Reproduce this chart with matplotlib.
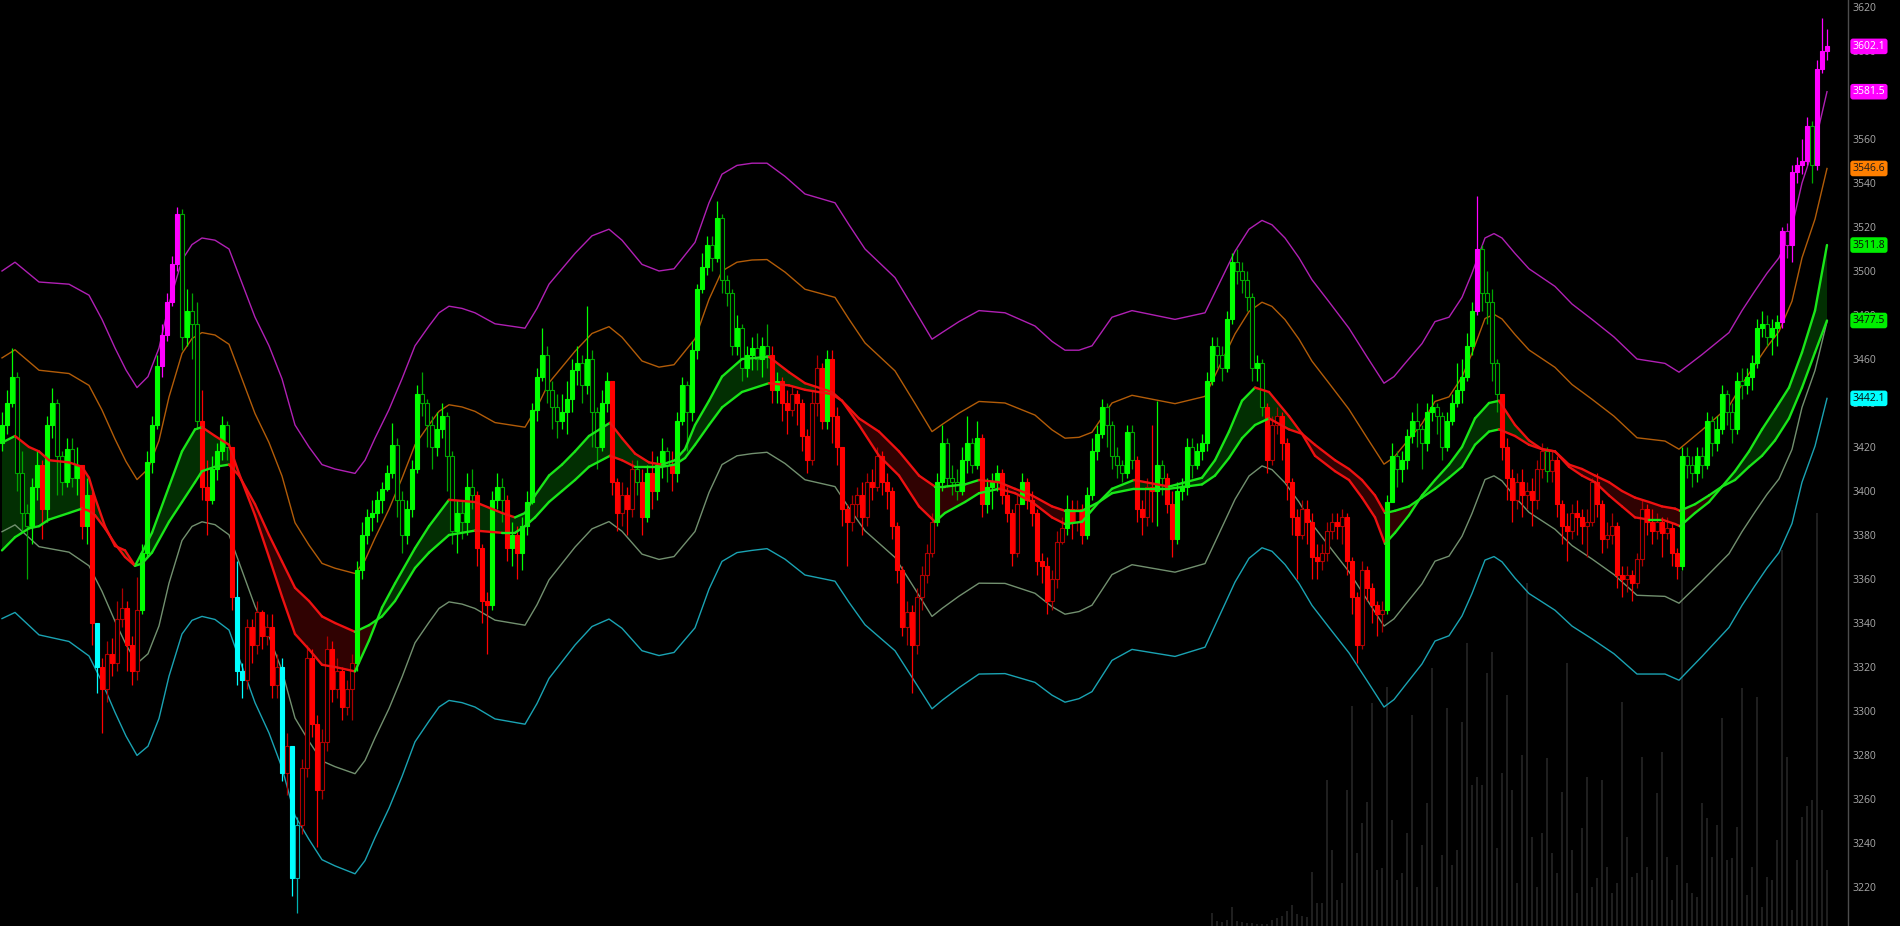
#!/usr/bin/python3

import numpy as np
import matplotlib
matplotlib.use('Agg')
from matplotlib import pyplot as plt
from matplotlib import transforms as mtransforms
from matplotlib.collections import LineCollection

# ---------------------------------------------------------------------------
# Candles (one per bar); open of bar i = close of bar i-1
first_open = 3422
closes = [
    3430, 3440, 3452, 3408, 3390, 3384, 3402, 3412, 3392, 3430,
    3440, 3416, 3404, 3419, 3406, 3412, 3384, 3398, 3340, 3320,
    3310, 3326, 3322, 3342, 3347, 3330, 3318, 3346, 3372, 3413,
    3430, 3457, 3471, 3486, 3503, 3526, 3470, 3482, 3476, 3432,
    3402, 3396, 3410, 3418, 3430, 3420, 3352, 3318, 3314, 3338,
    3330, 3345, 3334, 3338, 3312, 3320, 3272, 3284, 3224, 3248,
    3274, 3324, 3294, 3264, 3286, 3328, 3310, 3318, 3302, 3310,
    3322, 3364, 3380, 3388, 3390, 3396, 3401, 3408, 3421, 3396,
    3380, 3392, 3410, 3444, 3440, 3430, 3420, 3428, 3434, 3416,
    3382, 3390, 3386, 3402, 3398, 3374, 3350, 3348, 3396, 3402,
    3396, 3374, 3380, 3372, 3384, 3395, 3437, 3452, 3462, 3446,
    3438, 3432, 3436, 3442, 3455, 3458, 3448, 3460, 3436, 3420,
    3440, 3450, 3404, 3390, 3398, 3392, 3410, 3404, 3388, 3408,
    3400, 3412, 3418, 3412, 3408, 3432, 3448, 3436, 3464, 3492,
    3502, 3512, 3506, 3524, 3496, 3490, 3466, 3474, 3456, 3462,
    3465, 3460, 3466, 3462, 3446, 3450, 3440, 3437, 3444, 3440,
    3425, 3414, 3440, 3456, 3432, 3460, 3434, 3420, 3392, 3386,
    3394, 3398, 3388, 3404, 3402, 3416, 3404, 3400, 3384, 3364,
    3338, 3345, 3330, 3352, 3362, 3372, 3386, 3404, 3422, 3406,
    3404, 3400, 3414, 3422, 3412, 3424, 3394, 3402, 3404, 3408,
    3398, 3390, 3372, 3394, 3404, 3396, 3390, 3368, 3366, 3350,
    3360, 3377, 3383, 3392, 3386, 3392, 3380, 3398, 3418, 3426,
    3438, 3430, 3416, 3412, 3408, 3427, 3414, 3392, 3388, 3402,
    3400, 3412, 3406, 3394, 3378, 3400, 3402, 3420, 3412, 3418,
    3422, 3450, 3466, 3462, 3456, 3478, 3504, 3500, 3496, 3488,
    3456, 3458, 3438, 3414, 3430, 3434, 3422, 3404, 3388, 3380,
    3392, 3386, 3370, 3368, 3372, 3382, 3386, 3384, 3388, 3368,
    3352, 3330, 3364, 3356, 3348, 3344, 3346, 3395, 3416, 3410,
    3414, 3425, 3432, 3428, 3422, 3436, 3438, 3434, 3420, 3432,
    3440, 3446, 3452, 3466, 3482, 3510, 3490, 3486, 3458, 3444,
    3420, 3406, 3396, 3404, 3398, 3400, 3396, 3410, 3418, 3409,
    3414, 3394, 3384, 3382, 3390, 3388, 3384, 3386, 3404, 3394,
    3378, 3380, 3384, 3362, 3360, 3362, 3358, 3369, 3392, 3386,
    3382, 3386, 3381, 3383, 3372, 3366, 3416, 3412, 3408, 3416,
    3412, 3432, 3422, 3428, 3444, 3436, 3428, 3450, 3448, 3452,
    3458, 3474, 3476, 3470, 3474, 3477, 3518, 3512, 3545, 3548,
    3550, 3566, 3548, 3592, 3600, 3602.1,
]
highs = [
    3436, 3446, 3465, 3454, 3418, 3394, 3406, 3418, 3414, 3434,
    3447, 3442, 3418, 3424, 3424, 3420, 3412, 3406, 3400, 3340,
    3324, 3332, 3333, 3350, 3356, 3350, 3334, 3361, 3376, 3418,
    3434, 3462, 3476, 3490, 3507, 3529, 3528, 3492, 3490, 3486,
    3446, 3414, 3416, 3422, 3434, 3432, 3420, 3368, 3322, 3342,
    3342, 3350, 3346, 3344, 3344, 3326, 3324, 3290, 3284, 3252,
    3278, 3330, 3328, 3298, 3292, 3334, 3332, 3324, 3320, 3314,
    3326, 3368, 3386, 3392, 3396, 3400, 3404, 3412, 3431, 3424,
    3400, 3396, 3414, 3448, 3454, 3442, 3434, 3436, 3440, 3436,
    3418, 3396, 3396, 3408, 3410, 3400, 3376, 3354, 3400, 3408,
    3406, 3398, 3386, 3384, 3388, 3400, 3440, 3456, 3474, 3466,
    3450, 3444, 3444, 3450, 3460, 3466, 3462, 3484, 3464, 3438,
    3446, 3454, 3440, 3406, 3404, 3402, 3414, 3414, 3410, 3412,
    3418, 3416, 3424, 3420, 3418, 3436, 3452, 3450, 3468, 3494,
    3508, 3516, 3516, 3532, 3526, 3498, 3492, 3480, 3476, 3466,
    3470, 3472, 3470, 3476, 3466, 3454, 3452, 3446, 3448, 3446,
    3442, 3428, 3446, 3462, 3458, 3464, 3464, 3438, 3420, 3394,
    3398, 3402, 3404, 3408, 3410, 3420, 3418, 3408, 3402, 3386,
    3366, 3350, 3348, 3356, 3366, 3376, 3390, 3408, 3430, 3424,
    3412, 3410, 3420, 3434, 3424, 3432, 3426, 3406, 3408, 3412,
    3410, 3402, 3392, 3398, 3408, 3406, 3400, 3392, 3372, 3370,
    3364, 3382, 3388, 3398, 3396, 3396, 3394, 3402, 3424, 3430,
    3442, 3440, 3432, 3420, 3414, 3430, 3430, 3416, 3396, 3406,
    3430, 3441, 3414, 3408, 3400, 3404, 3406, 3424, 3424, 3422,
    3426, 3454, 3470, 3470, 3466, 3482, 3508, 3510, 3504, 3500,
    3490, 3462, 3460, 3440, 3434, 3438, 3436, 3424, 3406, 3392,
    3396, 3396, 3390, 3376, 3376, 3386, 3390, 3390, 3392, 3390,
    3370, 3354, 3368, 3366, 3358, 3350, 3350, 3398, 3422, 3418,
    3418, 3428, 3436, 3440, 3430, 3440, 3444, 3440, 3436, 3436,
    3444, 3458, 3460, 3472, 3486, 3534, 3512, 3500, 3492, 3460,
    3440, 3424, 3410, 3408, 3410, 3404, 3406, 3414, 3422, 3420,
    3418, 3416, 3396, 3390, 3394, 3396, 3392, 3392, 3406, 3408,
    3396, 3386, 3390, 3386, 3366, 3366, 3364, 3372, 3396, 3394,
    3392, 3390, 3388, 3388, 3386, 3374, 3420, 3420, 3416, 3420,
    3420, 3436, 3434, 3434, 3448, 3446, 3440, 3454, 3456, 3456,
    3462, 3478, 3482, 3480, 3478, 3480, 3520, 3522, 3548, 3552,
    3560, 3570, 3568, 3596, 3615, 3610,
]
lows = [
    3418, 3426, 3438, 3400, 3382, 3360, 3376, 3396, 3378, 3386,
    3424, 3398, 3398, 3402, 3402, 3398, 3378, 3376, 3330, 3308,
    3290, 3304, 3316, 3318, 3338, 3318, 3312, 3314, 3344, 3370,
    3408, 3428, 3452, 3468, 3484, 3500, 3464, 3466, 3460, 3428,
    3396, 3380, 3394, 3405, 3414, 3414, 3346, 3312, 3306, 3310,
    3322, 3326, 3328, 3330, 3306, 3306, 3268, 3262, 3216, 3208,
    3244, 3270, 3288, 3238, 3260, 3282, 3304, 3306, 3296, 3298,
    3296, 3318, 3360, 3376, 3382, 3386, 3390, 3400, 3406, 3388,
    3372, 3376, 3388, 3408, 3434, 3420, 3410, 3416, 3424, 3400,
    3376, 3372, 3378, 3380, 3392, 3366, 3340, 3326, 3346, 3392,
    3386, 3368, 3366, 3360, 3364, 3380, 3394, 3432, 3450, 3440,
    3428, 3424, 3428, 3426, 3436, 3448, 3440, 3444, 3420, 3410,
    3418, 3436, 3398, 3382, 3384, 3380, 3388, 3398, 3380, 3386,
    3392, 3396, 3406, 3404, 3400, 3404, 3430, 3418, 3432, 3460,
    3490, 3498, 3500, 3504, 3490, 3484, 3462, 3462, 3450, 3452,
    3455, 3455, 3452, 3456, 3440, 3440, 3432, 3426, 3434, 3430,
    3418, 3408, 3412, 3434, 3428, 3428, 3422, 3412, 3384, 3366,
    3382, 3388, 3380, 3384, 3396, 3400, 3398, 3392, 3378, 3358,
    3334, 3330, 3308, 3326, 3346, 3358, 3370, 3384, 3400, 3402,
    3398, 3396, 3398, 3408, 3408, 3410, 3388, 3390, 3392, 3400,
    3394, 3386, 3366, 3370, 3394, 3392, 3384, 3362, 3358, 3344,
    3346, 3356, 3376, 3380, 3378, 3382, 3376, 3378, 3396, 3414,
    3424, 3420, 3410, 3406, 3404, 3406, 3410, 3386, 3380, 3384,
    3386, 3384, 3398, 3390, 3370, 3376, 3396, 3398, 3406, 3410,
    3414, 3418, 3448, 3456, 3450, 3454, 3476, 3494, 3490, 3482,
    3450, 3450, 3434, 3408, 3412, 3426, 3414, 3396, 3380, 3360,
    3378, 3376, 3360, 3360, 3364, 3368, 3378, 3378, 3376, 3362,
    3344, 3322, 3328, 3350, 3340, 3334, 3336, 3344, 3396, 3402,
    3404, 3410, 3422, 3420, 3410, 3418, 3432, 3426, 3414, 3418,
    3430, 3438, 3440, 3450, 3462, 3480, 3482, 3476, 3450, 3436,
    3414, 3396, 3386, 3392, 3388, 3392, 3384, 3392, 3406, 3404,
    3404, 3388, 3376, 3368, 3378, 3380, 3376, 3370, 3384, 3388,
    3372, 3374, 3376, 3356, 3352, 3354, 3350, 3356, 3366, 3380,
    3376, 3378, 3370, 3378, 3366, 3360, 3364, 3406, 3402, 3404,
    3406, 3410, 3416, 3418, 3426, 3430, 3422, 3426, 3442, 3444,
    3446, 3456, 3470, 3466, 3462, 3466, 3474, 3506, 3504, 3540,
    3544, 3548, 3540, 3546, 3590, 3596,
]
# trend state per bar: g = up, r = down, m = above top band, c = below bottom band
states = (
    "ggggggggrg" "ggggggrgrc" "rrrrrrrrgg" "ggmmmmgggg" "rrggggrccr"
    "rrrrrrcrcc" "rrrrrrrrrr" "rggggggggg" "gggggggggg" "gggggrrrgg"
    "grgrgggggg" "gggggggggg" "ggrrrrrgrg" "rgggrggggg" "gggggggggg"
    "ggggrgrrrr" "rrrrrgrrrr" "rrrrrrrrrr" "rrrrrrrggg" "ggggggrggg"
    "rrrrgrrrrr" "rrrgrrrggg" "gggggggrrr" "rggrrggggg" "gggggggggg"
    "gggrrrrrrr" "rrrrrrrrrr" "rrrrrrrggg" "gggggggggg" "gggggmgggg"
    "rrrrrrrrrg" "rrrrrrrrrr" "rrrrrrrrrr" "rrrrrrgggg" "gggggggggg"
    "ggggggmmmm" "mmgmmm"
)

# Volume (only the last bars show up on the chart)
vol_start = 242
volume = [
    13, 5, 4, 6, 19, 5, 4, 3, 3, 2,
    2, 2, 6, 8, 10, 15, 21, 12, 10, 9,
    54, 23, 23, 146, 76, 26, 43, 136, 220, 73,
    103, 124, 223, 56, 58, 239, 106, 46, 53, 93,
    211, 39, 81, 123, 258, 39, 71, 218, 61, 76,
    204, 283, 141, 149, 141, 253, 274, 78, 153, 231,
    136, 43, 171, 343, 89, 39, 93, 168, 73, 53,
    134, 263, 76, 33, 98, 149, 39, 48, 146, 59,
    33, 43, 224, 89, 49, 53, 169, 59, 46, 133,
    174, 69, 26, 61, 355, 43, 33, 29, 123, 108,
    69, 101, 208, 66, 68, 99, 238, 31, 59, 229,
    19, 49, 46, 86, 376, 169, 16, 66, 109, 120,
    126, 413, 116, 56,
]

# Envelope bands (bar position, value)
band_x = [
    0, 2.6, 7.4, 13.4, 17.4, 20, 22.6, 24.8, 27, 29.2,
    31.4, 33.4, 36, 38, 40, 42.6, 45.4, 50.6, 53.4, 56,
    58.6, 61.4, 64, 66.6, 68.6, 70.6, 72.6, 74.6, 77.4, 80,
    82.6, 85.4, 87.4, 89.4, 92, 94.6, 98.6, 104.6, 107, 109.4,
    114.6, 118, 121.4, 124, 128, 131.4, 134.4, 138.6, 141.4, 144,
    147, 150, 153, 156.6, 160.6, 166.6, 169.4, 172.6, 178.6, 182.6,
    186, 188, 191.4, 195.4, 200.6, 206.6, 210, 212.6, 215.4, 218,
    222, 226, 234.6, 240.6, 246.6, 249.4, 252, 254, 256.6, 259.4,
    262, 265.4, 269.4, 273, 276.4, 278.4, 280.6, 284, 286.6, 289.4,
    292, 294, 296.6, 298.4, 300, 302.6, 305.4, 310.6, 314, 318,
    322.4, 327, 332.6, 335.4, 340, 345.4, 348, 350.6, 353, 355.4,
    358, 360, 362.6, 365,
]
band_top = [
    3500, 3504, 3495, 3494, 3489, 3478, 3465, 3455, 3447, 3452,
    3465, 3485, 3505, 3512, 3515, 3514, 3510, 3479, 3466, 3451,
    3430, 3420, 3412, 3410, 3409, 3408, 3414, 3424, 3437, 3451,
    3466, 3475, 3481, 3484, 3483, 3481, 3476, 3474, 3483, 3494,
    3508, 3516, 3519, 3514, 3503, 3500, 3501, 3513, 3531, 3544,
    3548, 3549, 3549, 3543, 3535, 3531, 3521, 3510, 3497, 3482,
    3469, 3472, 3477, 3482, 3481, 3475, 3468, 3464, 3464, 3466,
    3479, 3482, 3478, 3481, 3509, 3519, 3523, 3521, 3515, 3506,
    3496, 3486, 3474, 3461, 3449, 3452, 3458, 3467, 3477, 3479,
    3488, 3499, 3515, 3517, 3515, 3508, 3501, 3493, 3485, 3478,
    3470, 3460, 3458, 3454, 3462, 3472, 3482, 3491, 3499, 3506,
    3520, 3540, 3558, 3581.5,
]
band_upper = [
    3460.5, 3464.2, 3454.9, 3453.4, 3448, 3436.8, 3423.6, 3413.4, 3405.2, 3410,
    3422.9, 3442.7, 3462.5, 3469.3, 3472, 3470.9, 3466.7, 3435.2, 3422, 3406.8,
    3385.6, 3375.4, 3367.1, 3364.9, 3363.7, 3362.5, 3368.5, 3378.6, 3391.7, 3405.8,
    3421, 3430.1, 3436.2, 3439.2, 3438.2, 3436.2, 3431.1, 3429, 3438.1, 3449.2,
    3463.5, 3471.6, 3474.7, 3469.9, 3459.1, 3456.3, 3457.4, 3469.2, 3487.1, 3500,
    3504, 3505, 3505.2, 3499.5, 3491.7, 3488, 3478.1, 3467.3, 3454.6, 3439.8,
    3427, 3430.2, 3435.4, 3440.7, 3440, 3434.5, 3427.8, 3424, 3424.4, 3426.7,
    3440, 3443.5, 3439.7, 3443, 3471.4, 3481.6, 3485.8, 3483.9, 3477.9, 3469,
    3459, 3449, 3437.1, 3424.2, 3412.2, 3415.3, 3421.4, 3430.6, 3440.7, 3442.8,
    3451.8, 3462.6, 3478.4, 3480.3, 3478.2, 3471.1, 3464.1, 3456.2, 3448.4, 3441.7,
    3434, 3424.2, 3422.7, 3419, 3427.7, 3438.5, 3448.5, 3457.5, 3465.5, 3472.5,
    3486.3, 3506, 3523.6, 3546.6,
]
band_lower = [
    3381.5, 3384.6, 3374.7, 3372.2, 3366, 3354.4, 3340.8, 3330.2, 3321.6, 3326,
    3338.7, 3358.1, 3377.5, 3383.9, 3386, 3384.7, 3380.1, 3347.6, 3334, 3318.4,
    3296.8, 3286.2, 3277.3, 3274.7, 3273.1, 3271.5, 3277.5, 3287.8, 3301.1, 3315.4,
    3331, 3340.3, 3346.6, 3349.6, 3348.6, 3346.6, 3341.3, 3339, 3348.3, 3359.6,
    3374.5, 3382.8, 3386.1, 3381.7, 3371.3, 3368.9, 3370.2, 3381.6, 3399.3, 3412,
    3416, 3417, 3417.6, 3412.5, 3405.1, 3402, 3392.3, 3381.9, 3369.8, 3355.4,
    3343, 3346.6, 3352.2, 3358.1, 3358, 3353.5, 3347.4, 3344, 3345.2, 3348.1,
    3362, 3366.5, 3363.1, 3367, 3396.2, 3406.8, 3411.4, 3409.7, 3403.7, 3395,
    3385, 3375, 3363.3, 3350.6, 3338.6, 3341.9, 3348.2, 3357.8, 3368.1, 3370.4,
    3379.4, 3389.8, 3405.2, 3406.9, 3404.6, 3397.3, 3390.3, 3382.6, 3375.2, 3369.1,
    3362, 3352.6, 3352.1, 3349, 3359.1, 3371.5, 3381.5, 3390.5, 3398.5, 3405.5,
    3418.9, 3438, 3454.8, 3477,
]
band_bottom = [
    3342, 3344.8, 3334.6, 3331.6, 3325, 3313.2, 3299.4, 3288.6, 3279.8, 3284,
    3296.6, 3315.8, 3335, 3341.2, 3343, 3341.6, 3336.8, 3303.8, 3290, 3274.2,
    3252.4, 3241.6, 3232.4, 3229.6, 3227.8, 3226, 3232, 3242.4, 3255.8, 3270.2,
    3286, 3295.4, 3301.8, 3304.8, 3303.8, 3301.8, 3296.4, 3294, 3303.4, 3314.8,
    3330, 3338.4, 3341.8, 3337.6, 3327.4, 3325.2, 3326.6, 3337.8, 3355.4, 3368,
    3372, 3373, 3373.8, 3369, 3361.8, 3359, 3349.4, 3339.2, 3327.4, 3313.2,
    3301, 3304.8, 3310.6, 3316.8, 3317, 3313, 3307.2, 3304, 3305.6, 3308.8,
    3323, 3328, 3324.8, 3329, 3358.6, 3369.4, 3374.2, 3372.6, 3366.6, 3358,
    3348, 3338, 3326.4, 3313.8, 3301.8, 3305.2, 3311.6, 3321.4, 3331.8, 3334.2,
    3343.2, 3353.4, 3368.6, 3370.2, 3367.8, 3360.4, 3353.4, 3345.8, 3338.6, 3332.8,
    3326, 3316.8, 3316.8, 3314, 3324.8, 3338, 3348, 3357, 3365, 3372,
    3385.2, 3404, 3420.4, 3442.1,
]

# Fast / slow moving averages (bar position, value)
ma_x = [
    0, 2.6, 5.4, 7.4, 9.4, 13.4, 16, 17.4, 18.6, 20.6,
    22.6, 24.6, 26.6, 28, 30, 33.4, 36, 38.6, 40, 42.6,
    45.4, 47.4, 50.6, 53.4, 56, 58.6, 61.4, 64, 66.6, 70.6,
    73.4, 76, 78.6, 82.6, 85.4, 89.4, 94.6, 100, 102.6, 104.6,
    106.6, 109.4, 112, 114.6, 117.4, 121.6, 124, 126.6, 129.4, 132,
    134.6, 136.6, 138.6, 141.4, 144, 148, 153.4, 157.4, 160.6, 166,
    168, 171.4, 175.4, 179.4, 183.4, 186.6, 188.6, 192.6, 195.4, 199.4,
    202.6, 206, 210, 212.6, 216, 219.4, 222, 226.4, 233.4, 240,
    242.6, 245.4, 248, 250.6, 253.4, 257.4, 260, 262.6, 266.6, 269.4,
    272, 274.6, 276.6, 278.6, 281.4, 284, 286.6, 289.4, 292, 294.6,
    297.4, 299.4, 302.6, 305.4, 308, 310.6, 313.4, 316, 318.6, 321.4,
    324, 326.6, 329.4, 332, 334.6, 335.6, 338.6, 341.4, 344, 346.6,
    349.4, 352, 354.6, 357.4, 360, 362.6, 365,
]
ma_fast = [
    3422, 3425, 3420, 3418, 3414, 3413, 3411, 3406, 3397, 3384,
    3375, 3373, 3366, 3372, 3381, 3402, 3418, 3428, 3429, 3425,
    3421, 3408, 3389, 3370, 3352, 3335, 3328, 3321, 3320, 3318,
    3332, 3347, 3358, 3374, 3384, 3396, 3395, 3390, 3388, 3390,
    3398, 3407, 3412, 3418, 3425, 3431, 3424, 3417, 3413, 3412,
    3414, 3419, 3430, 3441, 3452, 3460, 3461, 3454, 3449, 3445,
    3441, 3430, 3416, 3407, 3393, 3386, 3390, 3395, 3399, 3401,
    3399, 3395, 3388, 3385, 3386, 3395, 3401, 3405, 3402, 3406,
    3414, 3427, 3441, 3447, 3445, 3434, 3426, 3416, 3409, 3405,
    3397, 3388, 3376, 3381, 3389, 3398, 3405, 3412, 3420, 3433,
    3440, 3441, 3430, 3423, 3419, 3418, 3411, 3407, 3404, 3398,
    3393, 3388, 3387, 3387, 3385, 3384, 3390, 3395, 3402, 3409,
    3418, 3428, 3437, 3447, 3463, 3482, 3511.8,
]
ma_slow = [
    3373, 3379, 3383, 3384, 3387, 3390, 3392, 3391, 3389, 3383,
    3376, 3370, 3366, 3367, 3372, 3386, 3395, 3404, 3409, 3411,
    3412, 3407, 3394, 3380, 3368, 3356, 3350, 3343, 3340, 3336,
    3339, 3343, 3350, 3365, 3372, 3380, 3382, 3381, 3381, 3384,
    3388, 3395, 3400, 3405, 3411, 3416, 3414, 3411, 3411, 3411,
    3412, 3415, 3421, 3430, 3438, 3445, 3449, 3448, 3446, 3444,
    3441, 3433, 3427, 3418, 3407, 3402, 3402, 3403, 3405, 3404,
    3401, 3398, 3393, 3391, 3391, 3395, 3399, 3401, 3401, 3403,
    3407, 3415, 3424, 3430, 3433, 3428, 3426, 3421, 3414, 3410,
    3405, 3398, 3390, 3391, 3393, 3397, 3401, 3406, 3411, 3421,
    3427, 3428, 3425, 3421, 3419, 3418, 3412, 3410, 3407, 3404,
    3400, 3397, 3395, 3393, 3392, 3391, 3394, 3398, 3402, 3405,
    3411, 3416, 3423, 3433, 3447, 3463, 3477.5,
]

price_ticks = list(range(3220, 3621, 20))

def slope_lines(ax, x, y):
    pts  = np.column_stack([x, y])
    segs = np.stack([pts[:-1], pts[1:]], axis=1)
    cols = np.where(np.diff(y) >= 0, '#19e619', '#ee1111')
    lc   = LineCollection(segs, colors=cols, linewidths=1.7, zorder=5,
                          capstyle='round', joinstyle='round')
    ax.add_collection(lc)

def main():

    plt.rcParams['font.family'] = ['Open Sans', 'DejaVu Sans']

    c = np.array(closes, dtype=float)
    o = np.r_[first_open, c[:-1]]
    h = np.maximum(np.array(highs, dtype=float), np.maximum(o, c))
    l = np.minimum(np.array(lows, dtype=float), np.minimum(o, c))
    x = np.arange(len(c))

    bright = {'g': '#00ff00', 'r': '#ff0000', 'm': '#ff00ff', 'c': '#00ffff'}
    dark   = {'g': '#00a800', 'r': '#b00000', 'm': '#c000c0', 'c': '#00b0b0'}
    up     = c >= o
    edge, face, wick = [], [], []
    for k, s in enumerate(states):
        agree = up[k] if s in 'gm' else not up[k]
        if agree:
            edge.append(bright[s]); face.append(bright[s]); wick.append(bright[s])
        else:
            edge.append(dark[s]);   face.append('#000000'); wick.append(dark[s])

    W, H = 1900, 926
    rect = [0, 0, 1848 / W, 1]
    fig  = plt.figure(figsize=(W / 100, H / 100), dpi=100, facecolor='black')

    # Volume underneath
    axv = fig.add_axes(rect)
    axv.set_facecolor('black')
    vx = np.arange(vol_start, vol_start + len(volume))
    axv.bar(vx, volume, width=0.45, color='#1f1f1f', linewidth=0)
    axv.set_ylim(0, H)
    axv.set_xlim(-0.4, 369.2)
    axv.axis('off')

    ax = fig.add_axes(rect)
    ax.set_zorder(2)
    ax.patch.set_alpha(0)

    # Fill between averages
    fx = np.array(ma_x); ff = np.array(ma_fast); fs = np.array(ma_slow)
    ax.fill_between(fx, ff, fs, where=ff >= fs, interpolate=True,
                    color='#022f02', linewidth=0, zorder=1)
    ax.fill_between(fx, ff, fs, where=ff < fs, interpolate=True,
                    color='#300202', linewidth=0, zorder=1)

    # Envelope bands
    ax.plot(band_x, band_top,    color='#b020b4', lw=1.0, zorder=2)
    ax.plot(band_x, band_upper,  color='#b25c08', lw=1.0, zorder=2)
    ax.plot(band_x, band_lower,  color='#72906f', lw=1.0, zorder=2)
    ax.plot(band_x, band_bottom, color='#1aa3b3', lw=1.0, zorder=2)

    # Candles
    ax.vlines(x, l, h, colors=wick, linewidth=0.9, zorder=3)
    bot = np.minimum(o, c)
    hgt = np.maximum(np.abs(c - o), 0.6)
    ax.bar(x, hgt, width=0.62, bottom=bot, color=face, edgecolor=edge,
           linewidth=0.8, zorder=4)

    # Averages coloured by slope
    slope_lines(ax, fx, ff)
    slope_lines(ax, fx, fs)

    ax.set_xlim(-0.4, 369.2)
    ax.set_ylim(3202.27, 3623.18)
    ax.set_xticks([])
    ax.yaxis.tick_right()
    ax.set_yticks(price_ticks)
    ax.set_yticklabels([str(t) for t in price_ticks])
    ax.tick_params(axis='y', colors='#a9a9a9', labelsize=7.5, length=0, pad=3)
    for side in ['left', 'top', 'bottom']:
        ax.spines[side].set_visible(False)
    ax.spines['right'].set_color('#4d4d4d')
    ax.spines['right'].set_linewidth(1.0)

    # Last value labels
    trans = mtransforms.blended_transform_factory(ax.transAxes, ax.transData)
    tags = [(c[-1],           '#ff00ff', '#ffffff'),
            (band_top[-1],    '#ff00ff', '#ffffff'),
            (band_upper[-1],  '#ff7f00', '#1a1a1a'),
            (ma_fast[-1],     '#00ee00', '#0a0a0a'),
            (ma_slow[-1],     '#00ee00', '#0a0a0a'),
            (band_bottom[-1], '#00ffff', '#0a0a0a')]
    for val, bg, fg in tags:
        ax.text(1.0025, val, '%.1f' % val, transform=trans, ha='left',
                va='center', fontsize=7.5, color=fg, clip_on=False, zorder=10,
                bbox=dict(boxstyle='round,pad=0.22,rounding_size=0.25',
                          fc=bg, ec='none'))

    fname = 'out.png'
    print('Writing %s' % (fname))
    fig.savefig(fname, dpi=100, facecolor='black')
    plt.close(fig)

if __name__ == '__main__': main()
